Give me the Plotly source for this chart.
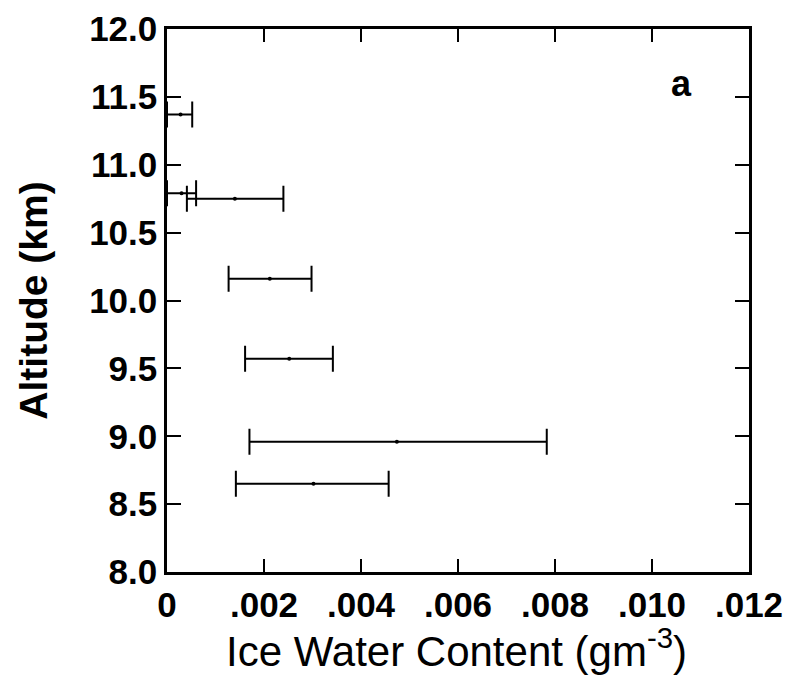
import plotly.graph_objects as go

# Data
altitude_km = [11.37, 10.79, 10.75, 10.16, 9.57, 8.96, 8.65]
iwc_mean = [0.00028, 0.00030, 0.00140, 0.00212, 0.00252, 0.00474, 0.00302]
iwc_upper = [0.00052, 0.00060, 0.00240, 0.00298, 0.00342, 0.00783, 0.00457]
iwc_lower = [0.0, 0.0, 0.00041, 0.00127, 0.00161, 0.00170, 0.00142]

x_tickvals = [0, 0.002, 0.004, 0.006, 0.008, 0.010, 0.012]
x_ticktext = ["0", ".002", ".004", ".006", ".008", ".010", ".012"]
y_tickvals = [8.0, 8.5, 9.0, 9.5, 10.0, 10.5, 11.0, 11.5, 12.0]

err_plus = [u - m for u, m in zip(iwc_upper, iwc_mean)]
err_minus = [m - l for m, l in zip(iwc_mean, iwc_lower)]

FONT = "Liberation Sans, Arial, Helvetica, sans-serif"

fig = go.Figure()
fig.add_trace(go.Scatter(
    x=iwc_mean, y=altitude_km, mode="markers",
    marker=dict(color="black", size=4),
    error_x=dict(type="data", symmetric=False, array=err_plus, arrayminus=err_minus,
                 color="black", thickness=2, width=13),
    cliponaxis=False, showlegend=False,
))

fig.add_annotation(x=0.0106, y=11.6, text="<b>a</b>", showarrow=False,
                   font=dict(family=FONT, size=36, color="black"),
                   xref="x", yref="y")

# x-axis title placed as an annotation for precise vertical placement
fig.add_annotation(x=0.497, y=-0.14, xref="paper", yref="paper",
                   text="Ice Water Content (gm<sup>-3</sup>)", showarrow=False,
                   xanchor="center", yanchor="middle",
                   font=dict(family=FONT, size=42, color="black"))

fig.update_layout(
    width=791, height=686,
    margin=dict(l=159, r=50, t=21, b=122),
    paper_bgcolor="white", plot_bgcolor="white",
    font=dict(family=FONT, color="black"),
    xaxis=dict(
        range=[0, 0.012], tickvals=x_tickvals, ticktext=x_ticktext,
        ticks="inside", ticklen=13, tickwidth=2, tickcolor="black",
        showline=True, linecolor="black", linewidth=2.5, mirror="ticks",
        showgrid=False, zeroline=False, automargin=False,
        tickfont=dict(family=FONT, size=35, color="black", weight="bold"),
    ),
    yaxis=dict(
        range=[8.0, 12.0], tickvals=y_tickvals, tickformat=".1f",
        ticks="inside", ticklen=14, tickwidth=2, tickcolor="black",
        showline=True, linecolor="black", linewidth=2.5, mirror="ticks",
        showgrid=False, zeroline=False, automargin=False,
        tickfont=dict(family=FONT, size=35, color="black", weight="bold"),
        title=dict(text="<b>Altitude (km)</b>",
                   font=dict(family=FONT, size=39, color="black"), standoff=30),
    ),
)

fig.write_html("out.html")
